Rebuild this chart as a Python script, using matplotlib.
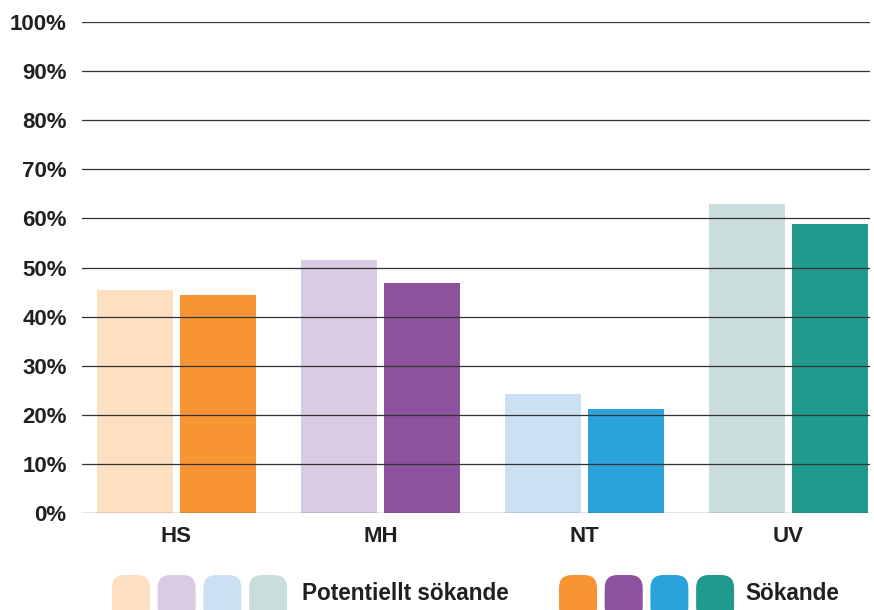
import matplotlib.pyplot as plt
from matplotlib.patches import FancyBboxPatch
import numpy as np

categories = ["HS", "MH", "NT", "UV"]
potentiellt = [45.4, 51.5, 24.2, 62.9]
sokande = [44.4, 46.9, 21.2, 58.8]
light_colors = ["#FDDFC1", "#D8CBE3", "#CCE0F3", "#C9DEDC"]
dark_colors = ["#F79433", "#8D529E", "#2CA2DA", "#209A8D"]
yticks = list(range(0, 101, 10))

plt.rcParams['font.family'] = ['Liberation Sans', 'DejaVu Sans']
plt.rcParams['font.weight'] = 'bold'

fig = plt.figure(figsize=(8.74, 6.10), dpi=100)
ax = fig.add_axes([82 / 874, 1 - 513 / 610, 788 / 874, 491 / 610])

x = np.arange(len(categories))
w = 0.373
off = 0.203
ax.bar(x - off, potentiellt, w, color=light_colors, zorder=1)
ax.bar(x + off, sokande, w, color=dark_colors, zorder=1)

ax.set_ylim(0, 100)
ax.set_xlim(-94.5 / 204, 3 + 81.5 / 204)
ax.set_yticks(yticks)
ax.set_yticklabels([f"{t}%" for t in yticks], fontsize=16, fontweight='bold', color='#231f20')
ax.set_xticks(x)
ax.set_xticklabels(categories, fontsize=16, fontweight='bold', color='#231f20')
ax.tick_params(axis='y', length=0, pad=11)
ax.tick_params(axis='x', length=0, pad=9)
for s in ax.spines.values():
    s.set_visible(False)
for t in yticks:
    ax.axhline(t, color='#333333', lw=0.9, zorder=3)

# legend: overlay axes in pixel units so the swatches get round corners
lax = fig.add_axes([0, 0, 1, 1], zorder=-1)
lax.set_xlim(0, 874)
lax.set_ylim(610, 0)
lax.axis('off')

def swatch(xpx, color):
    lax.add_patch(FancyBboxPatch((xpx, 575), 38, 45,
                                 boxstyle="round,pad=0,rounding_size=13",
                                 facecolor=color, edgecolor='none'))

for i, c in enumerate(light_colors):
    swatch(112 + i * 45.7, c)
for i, c in enumerate(dark_colors):
    swatch(559 + i * 45.7, c)
lax.text(302, 593, "Potentiellt sökande", fontsize=16.3, fontweight='bold',
         color='#231f20', va='center', ha='left')
lax.text(745, 593, "Sökande", fontsize=16.3, fontweight='bold',
         color='#231f20', va='center', ha='left')

fig.savefig("out.png", dpi=100)
